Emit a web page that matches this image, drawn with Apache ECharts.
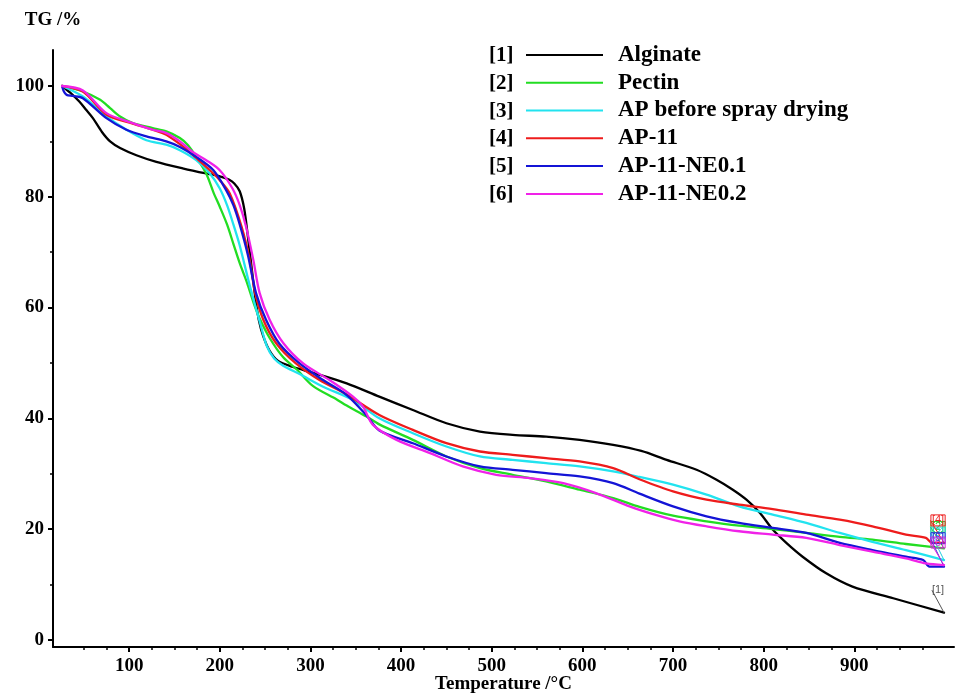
<!DOCTYPE html>
<html><head><meta charset="utf-8">
<script src="https://cdn.jsdelivr.net/npm/echarts@6/dist/echarts.min.js"></script>
<style>html,body{margin:0;padding:0;background:#fff}#c{width:957px;height:695px}</style>
</head><body><div id="c"></div>
<script>
// ---- data ----
const seriesNames = ['Alginate', 'Pectin', 'AP before spray drying', 'AP-11', 'AP-11-NE0.1', 'AP-11-NE0.2'];
const seriesTags = ['[1]', '[2]', '[3]', '[4]', '[5]', '[6]'];

const alginate = [[26,100],[35,98.8],[45,97.2],[52,95.8],[60,94.2],[70,91.7],[79,90],[90,88.8],[108,87.5],[130,86.3],[160,85.1],[185,84.2],[200,83.7],[210,83.1],[216,82.4],[222,81],[227,77.8],[231,72.8],[235,67.4],[239,62],[243,57.8],[248,54.8],[255,52.2],[264,50.4],[280,49.3],[303,48.2],[340,46.3],[376,43.9],[413,41.5],[450,39.1],[487,37.6],[523,37.0],[560,36.7],[597,36.1],[634,35.2],[665,34.1],[693,32.5],[726,30.7],[748,28.9],[766,27.1],[781,25.3],[796,22.9],[810,19.9],[825,17.5],[843,15.0],[869,12.0],[898,9.6],[943,7.5],[999,4.9]];
const pectin = [[26,100],[49,99.0],[68,97.5],[79,96.0],[90,94.5],[104,93.3],[126,92.4],[141,91.8],[156,90.6],[165,89.3],[174,87.2],[185,84.2],[193,80.8],[200,78.2],[208,75],[215,71.5],[222,68],[230,64.5],[237,61],[244,58],[255,54.5],[270,51],[285,48.8],[303,45.8],[329,43.4],[340,42.3],[362,40.3],[376,38.9],[413,36.1],[450,33.1],[487,31.0],[523,29.8],[560,28.6],[597,27.1],[634,25.6],[663,24.0],[700,22.4],[737,21.4],[773,20.6],[810,20.0],[847,19.3],[884,18.6],[920,18.1],[957,17.3],[999,16.5]];
const apBeforeSpray = [[26,100],[49,98.1],[75,94.5],[97,92.1],[119,90.2],[141,89.4],[156,88.4],[174,86.6],[189,84.2],[200,81.5],[208,78.5],[215,75],[222,71.2],[233,64],[244,57.5],[252,53],[260,50.8],[270,49.5],[288,48.0],[314,45.7],[347,43.3],[376,40.0],[413,37.3],[450,34.9],[487,33.1],[523,32.5],[560,31.9],[597,31.3],[634,30.4],[663,29.4],[700,28.0],[737,26.2],[773,24.1],[810,22.6],[847,21.1],[884,19.3],[920,17.7],[957,16.2],[999,14.4]];
const ap11 = [[26,100],[49,99],[75,94.8],[104,93.2],[126,92.1],[141,91.2],[160,89.0],[174,87],[189,84.8],[200,83],[211,80.6],[224,74.6],[233,68.6],[239,62.6],[248,57.8],[262,53.6],[284,49.9],[310,46.9],[340,44.3],[376,40.6],[413,37.9],[450,35.5],[487,34.0],[523,33.4],[560,32.8],[597,32.2],[634,31.0],[663,29.0],[700,26.8],[737,25.3],[773,24.4],[810,23.6],[847,22.6],[884,21.7],[920,20.5],[957,19.0],[979,18.4],[986,17.5],[999,17.5]];
const ap11ne01 = [[26,100],[28,99],[31,98.4],[38,98.2],[49,97.8],[75,94.2],[97,92.1],[119,90.9],[141,90],[156,89],[174,87.2],[193,84.8],[207,81.2],[215,78.5],[222,75],[231,69.5],[240,62.6],[251,57.8],[266,53.4],[288,49.9],[314,46.9],[340,44.2],[362,40.5],[376,37.8],[413,35.5],[450,33.1],[487,31.3],[523,30.7],[560,30.1],[597,29.5],[634,28.3],[663,26.4],[700,24.1],[737,22.3],[773,21.1],[810,20.2],[847,19.3],[884,17.5],[920,16.2],[957,15.0],[976,14.4],[983,13.2],[999,13.2]];
const ap11ne02 = [[26,100],[49,99.2],[75,95.1],[104,93.3],[126,92.1],[141,91.5],[156,90],[170,88.1],[185,86.6],[200,84.8],[214,81.5],[222,78.5],[229,74.6],[237,68.6],[244,62.6],[255,57.8],[270,53.6],[292,49.9],[321,46.9],[347,43.9],[358,42.1],[369,38.8],[395,36.1],[432,33.7],[468,31.3],[505,29.8],[542,29.2],[579,28.3],[615,26.5],[652,24.1],[680,22.6],[707,21.4],[737,20.5],[773,19.6],[810,19.0],[847,18.4],[884,17.1],[920,15.9],[957,14.7],[979,13.8],[999,13.5]];

const xMajorTicks = [100, 200, 300, 400, 500, 600, 700, 800, 900];
const xMinorTicks = [50,75,125,150,175,225,250,275,325,350,375,425,450,475,525,550,575,625,650,675,725,750,775,825,850,875,925,950,975];
const yMajorTicks = [0, 20, 40, 60, 80, 100];
const yMinorTicks = [10, 30, 50, 70, 90];

// ---- style ----
const allData = [alginate, pectin, apBeforeSpray, ap11, ap11ne01, ap11ne02];
const colors = ['#000000', '#22dd22', '#22e3ef', '#ee1c1c', '#1414d6', '#f022e8'];
const tagColors = ['#555555', '#22cc22', '#22d0e0', '#ee2222', '#3333dd', '#dd22dd'];
const tagShift = [[-6,-12],[-6,-11],[-6,-17],[-6,-12],[-6,-18],[-6,-12]];
const SERIF = "'Liberation Serif','Times New Roman',serif";

const chart = echarts.init(document.getElementById('c'), null, {renderer: 'canvas'});

const series = allData.map((arr, i) => ({
  name: seriesNames[i],
  type: 'line',
  xAxisIndex: 0, yAxisIndex: 0,
  smooth: 0.3,
  symbol: 'circle',
  symbolSize: 0,
  showSymbol: true,
  silent: true,
  z: 2 + i,
  lineStyle: {color: colors[i], width: 2.3, cap: 'round', join: 'round'},
  itemStyle: {color: colors[i]},
  label: {show: false},
  labelLine: {show: true, lineStyle: {color: tagColors[i], width: 1}},
  labelLayout: {dx: tagShift[i][0], dy: tagShift[i][1]},
  data: arr.map((p, k) => k === arr.length - 1 ? {
    value: p,
    label: {
      show: true, position: 'top', formatter: seriesTags[i],
      fontSize: 11, fontFamily: "'Liberation Sans',Arial,sans-serif",
      color: tagColors[i],
      borderColor: i === 0 ? 'transparent' : tagColors[i],
      borderWidth: i === 0 ? 0 : 1, padding: [0, 1]
    }
  } : p)
}));

const axisFont = {fontFamily: SERIF, fontWeight: 'bold', fontSize: 19, color: '#000'};

const option = {
  animation: false,
  backgroundColor: '#fff',
  grid: {left: 53, right: 3, top: 50, bottom: 48, containLabel: false, outerBoundsMode: 'none'},
  legend: {
    orient: 'vertical', left: 526, top: 41, padding: 0,
    itemWidth: 77, itemHeight: 2, itemGap: 0, icon: 'rect',
    selectedMode: false,
    data: seriesNames,
    textStyle: {fontFamily: SERIF, fontWeight: 'bold', fontSize: 23, color: '#000', lineHeight: 27.8, padding: [0, 0, 0, 10]}
  },
  graphic: seriesTags.map((t, i) => ({
    type: 'text', left: 489, top: 45 + i * 27.8,
    style: {text: t, font: "bold 21px 'Liberation Serif','Times New Roman',serif", fill: '#000'}
  })),
  xAxis: [{
    type: 'value', min: 16, max: 1010, position: 'bottom',
    name: 'Temperature /°C', nameLocation: 'middle', nameGap: 28, nameMoveOverlap: false,
    nameTextStyle: {...axisFont, verticalAlign: 'top'},
    axisLine: {show: true, onZero: false, lineStyle: {color: '#000', width: 2}},
    axisTick: {show: true, length: 5, customValues: xMajorTicks, lineStyle: {color: '#000', width: 2}},
    axisLabel: {customValues: xMajorTicks, margin: 10, ...axisFont},
    splitLine: {show: false}
  }, {
    type: 'value', min: 16, max: 1010, position: 'bottom',
    axisLine: {show: false, onZero: false},
    axisTick: {show: true, length: 3, customValues: xMinorTicks, lineStyle: {color: '#000', width: 1.5}},
    axisLabel: {show: false},
    splitLine: {show: false}
  }],
  yAxis: [{
    type: 'value', min: -1.3, max: 106.5, position: 'left',
    name: 'TG /%', nameLocation: 'end', nameGap: 20,
    nameTextStyle: {...axisFont, align: 'center'},
    axisLine: {show: true, onZero: false, lineStyle: {color: '#000', width: 2}},
    axisTick: {show: true, length: 5, customValues: yMajorTicks, lineStyle: {color: '#000', width: 2}},
    axisLabel: {customValues: yMajorTicks, margin: 9, ...axisFont},
    splitLine: {show: false}
  }, {
    type: 'value', min: -1.3, max: 106.5, position: 'left',
    axisLine: {show: false, onZero: false},
    axisTick: {show: true, length: 3, customValues: yMinorTicks, lineStyle: {color: '#000', width: 1.5}},
    axisLabel: {show: false},
    splitLine: {show: false}
  }],
  series: series
};
chart.setOption(option);
</script></body></html>
